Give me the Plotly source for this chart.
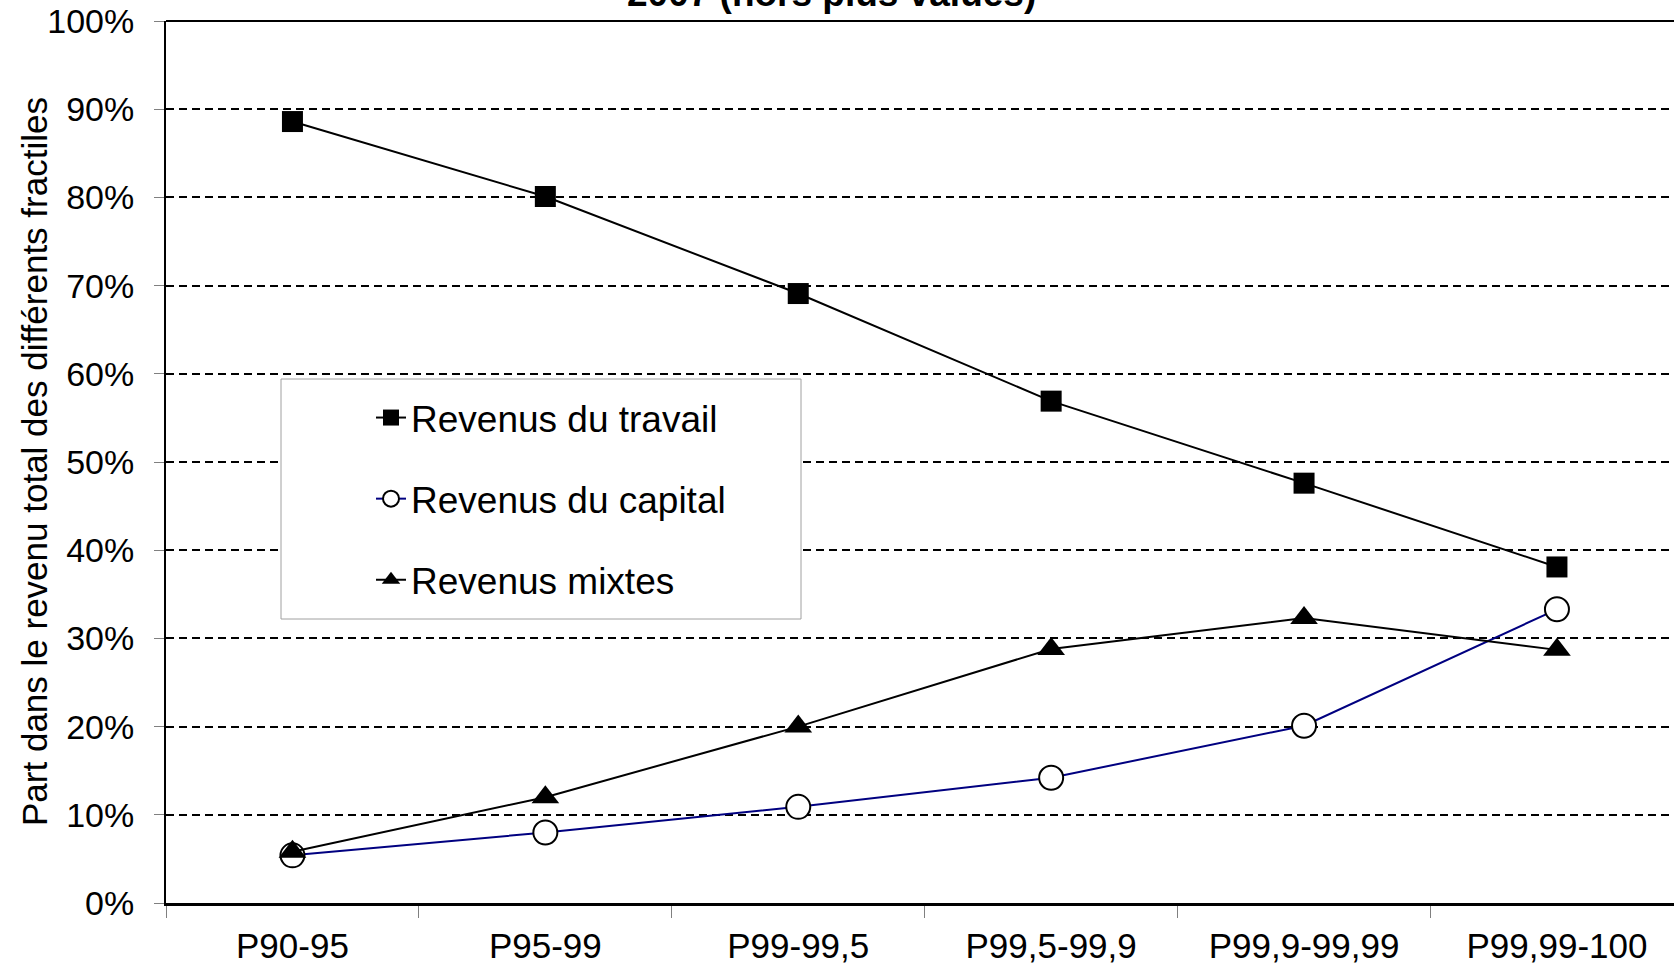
import plotly.graph_objects as go

categories = ["P90-95", "P95-99", "P99-99,5", "P99,5-99,9", "P99,9-99,99", "P99,99-100"]
travail = [88.6, 80.1, 69.1, 56.9, 47.6, 38.1]
capital = [5.4, 8.0, 10.9, 14.2, 20.1, 33.3]
mixtes = [5.8, 12.0, 20.0, 28.8, 32.3, 28.7]
y_ticks = [0, 10, 20, 30, 40, 50, 60, 70, 80, 90, 100]

FONT = "Liberation Sans, Arial, sans-serif"

fig = go.Figure()
fig.add_trace(go.Scatter(
    x=categories, y=travail, name="Revenus du travail", mode="lines+markers",
    line=dict(color="black", width=2),
    marker=dict(symbol="square", size=21, color="black"),
    legendgroup="a",
))
fig.add_trace(go.Scatter(
    x=categories, y=capital, name="Revenus du capital", mode="lines+markers",
    line=dict(color="#000080", width=2),
    marker=dict(symbol="circle", size=24, color="white", line=dict(color="black", width=2)),
    legendgroup="b",
))
fig.add_trace(go.Scatter(
    x=categories, y=mixtes, name="Revenus mixtes", mode="lines+markers",
    line=dict(color="black", width=2),
    marker=dict(symbol="triangle-up", size=24, color="black"),
    legendgroup="c",
))

fig.update_layout(
    template="none",
    width=1674, height=965,
    margin=dict(l=166, r=0, t=21, b=62, autoexpand=False),
    paper_bgcolor="white", plot_bgcolor="white",
    font=dict(family=FONT, color="black"),
    showlegend=True,
    legend=dict(
        x=(371 - 166) / 1508, y=1 - (387 - 21) / 882,
        xanchor="left", yanchor="top",
        bgcolor="rgba(0,0,0,0)", borderwidth=0,
        font=dict(size=37, family=FONT, color="black"),
        tracegroupgap=30,
    ),
    xaxis=dict(
        type="category", range=[-0.5, -0.5 + 1508 / 252.9], automargin=False,
        showgrid=False, showline=True, linecolor="black", linewidth=3,
        ticks="outside", tickson="boundaries", ticklen=12, tickcolor="#808080", tickwidth=1,
        tickfont=dict(size=35, family=FONT), ticklabelstandoff=10,
        zeroline=False,
    ),
    yaxis=dict(
        range=[0, 100], tickvals=y_ticks, ticktext=[f"{v}%" for v in y_ticks], automargin=False,
        showgrid=True, gridcolor="black", gridwidth=2, griddash="8px,5px",
        showline=True, linecolor="black", linewidth=2,
        ticks="outside", ticklen=10, tickcolor="#808080", tickwidth=1,
        tickfont=dict(size=34, family=FONT), ticklabelstandoff=13,
        ticklabeloverflow="allow",
        zeroline=False,
    ),
    shapes=[
        dict(type="rect", xref="paper", yref="paper",
             x0=(281 - 166) / 1508, x1=(801 - 166) / 1508,
             y0=1 - (619 - 21) / 882, y1=1 - (379 - 21) / 882,
             fillcolor="white", line=dict(color="#a0a0a0", width=1), layer="above"),
        dict(type="line", xref="paper", yref="paper", x0=0, x1=1, y0=1, y1=1,
             line=dict(color="black", width=2), layer="above"),
    ],
    annotations=[
        dict(text="<b>2007 (hors plus values)</b>", xref="paper", yref="paper",
             x=(831 - 166) / 1508, y=1, xanchor="center", yanchor="bottom", yshift=5,
             showarrow=False, font=dict(size=37, family=FONT, color="black")),
        dict(text="Part dans le revenu total des différents fractiles", xref="paper", yref="paper",
             x=0, y=0.5, xshift=-132, xanchor="center", yanchor="middle", textangle=-90,
             showarrow=False, font=dict(size=35, family=FONT, color="black")),
    ],
)

fig.write_html(
    "out.html",
    config={"displayModeBar": False},
    post_script="document.body.style.margin='0';document.body.style.overflow='hidden';",
)
